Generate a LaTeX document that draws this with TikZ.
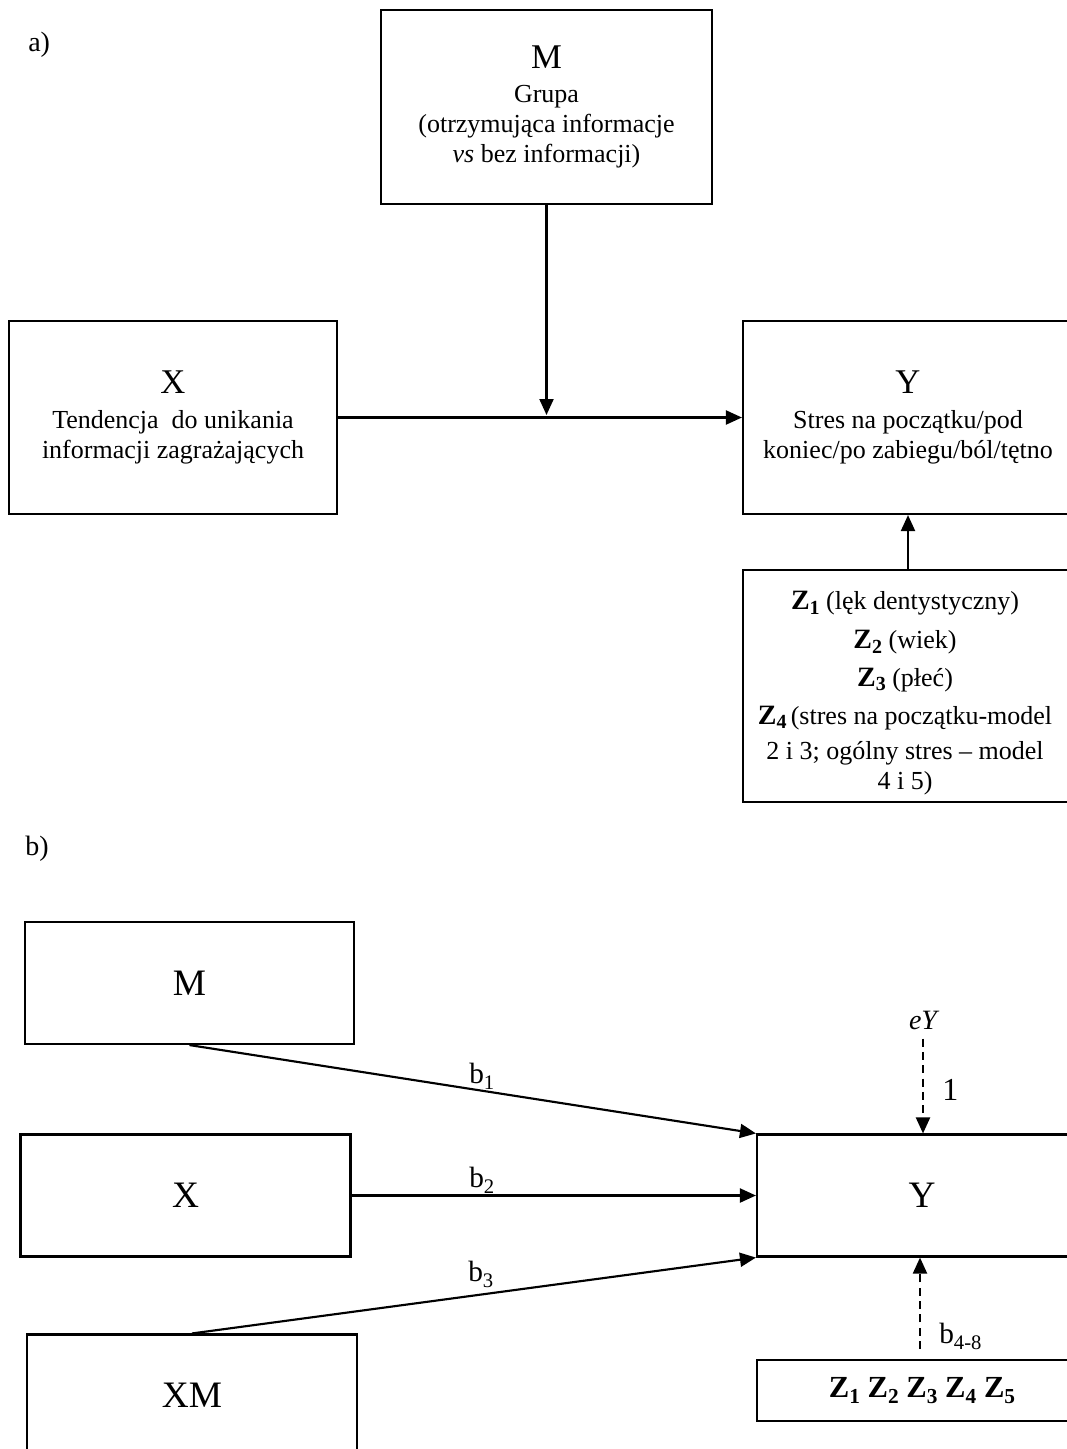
\documentclass[tikz,border=0pt]{standalone}
\usepackage{fontspec}
\setmainfont{Liberation Serif}
\usetikzlibrary{arrows.meta}
\def\PX{0.75pt}
\newcommand\bigletter[1]{{\fontsize{26}{30}\selectfont #1}}
\newcommand\bletter[1]{{\fontsize{28}{32}\selectfont #1}}
\newcommand\Zsa[1]{{\fontsize{21}{22.5}\selectfont\textbf{Z}}\raisebox{-3.5pt}{\fontsize{15}{15}\selectfont\bfseries #1}}
\newcommand\Zsb[1]{\textbf{Z}\raisebox{-4pt}{\fontsize{16}{16}\selectfont\bfseries #1}}
\newcommand\lsub[2]{#1\raisebox{-4.5pt}{\fontsize{15.5}{15.5}\selectfont #2}}
\begin{document}
\begin{tikzpicture}[x=0.75pt,y=-0.75pt,
  box/.style={draw, line width=1.6pt, inner sep=0pt, align=center},
  body/.style={font=\fontsize{19.5}{22.5}\selectfont},
  arr/.style={-{Triangle[length=12pt,width=10.5pt]}, line width=1.6pt},
  darr/.style={arr, dash pattern=on 6pt off 4pt},
  lab/.style={font=\fontsize{22}{26}\selectfont, inner sep=0pt, anchor=base west},
]
\clip (0,0) rectangle (1067,1449);
\fill[white] (0,0) rectangle (1067,1449);

% ---------- a) ----------
\node[lab, font=\fontsize{21}{26}\selectfont] (la) at (28,51) {a)};

\node[box, body, minimum width=331*\PX, minimum height=194*\PX] (Ma) at (546.5,107)
  {\bigletter{M}\\[3pt]Grupa\\(otrzymująca informacje\\\textit{vs} bez informacji)};

\node[box, body, minimum width=328*\PX, minimum height=193*\PX] (Xa) at (173,417.5)
  {\bigletter{X}\\[3.75pt]Tendencja\ \ do unikania\\informacji zagrażających};

\node[box, body, minimum width=330*\PX, minimum height=193*\PX] (Ya) at (908,417.5)
  {\bigletter{Y}\\[3.75pt]Stres na początku/pod\\koniec/po zabiegu/ból/tętno};

\node[box, minimum width=330*\PX, minimum height=232*\PX] (Za) at (908,686) {};
\node[body, align=center, anchor=north, inner sep=0pt] (Zatxt) at (905,591)
  {\Zsa{1} (lęk dentystyczny)\\[7pt]
   \Zsa{2} (wiek)\\[5.5pt]
   \Zsa{3} (płeć)\\[6pt]
   \Zsa{4}\,(stres na początku-model\\[4pt]
   2 i 3; ogólny stres – model\\
   4 i 5)};

\coordinate (mid) at (546.5,419);
\draw[arr] (Xa.east) -- (Xa.east -| Ya.west);
\draw[arr, shorten >=4*\PX] (Ma.south) -- (mid);
\draw[arr] (Za.north) -- (Ya.south);

% ---------- b) ----------
\node[lab, font=\fontsize{21}{26}\selectfont] (lb) at (25,855) {b)};

\node[box, minimum width=329*\PX, minimum height=122*\PX] (Mb) at (189.5,983) {\bletter{M}};
\node[box, minimum width=330*\PX, minimum height=122*\PX] (Xb) at (185.5,1195.5) {\bletter{X}};
\node[box, minimum width=330*\PX, minimum height=122*\PX] (XMb) at (192,1395.5) {\bletter{XM}};
\node[box, minimum width=330*\PX, minimum height=122*\PX] (Yb) at (922,1195.5) {\bletter{Y}};
\node[box, minimum width=330*\PX, minimum height=61*\PX] (Zb) at (922,1390.5)
  {{\fontsize{23}{26}\selectfont \Zsb{1} \Zsb{2} \Zsb{3} \Zsb{4} \Zsb{5}}};

\node[font=\fontsize{21}{24}\selectfont\itshape, inner sep=0pt, anchor=base] (eY) at (923,1029) {eY};

\draw[arr] (Mb.south) -- (Yb.north west);
\draw[arr] (Xb.east) -- (Xb.east -| Yb.west);
\draw[arr] (XMb.north) -- (Yb.south west);
\draw[darr, shorten <=9*\PX] (eY.south) -- (eY.south |- Yb.north);
\draw[darr, shorten <=10*\PX] ([xshift=-2*\PX]Zb.north) -- ([xshift=-2*\PX]Zb.north |- Yb.south);

\node[lab] (b1) at (469,1083) {\lsub{b}{1}};
\node[lab] (b2) at (469,1187) {\lsub{b}{2}};
\node[lab] (b3) at (468,1281) {\lsub{b}{3}};
\node[lab, font=\fontsize{24}{28}\selectfont] (one) at (942,1100) {1};
\node[lab] (b48) at (939,1343) {\lsub{b}{4-8}};
\end{tikzpicture}
\end{document}
